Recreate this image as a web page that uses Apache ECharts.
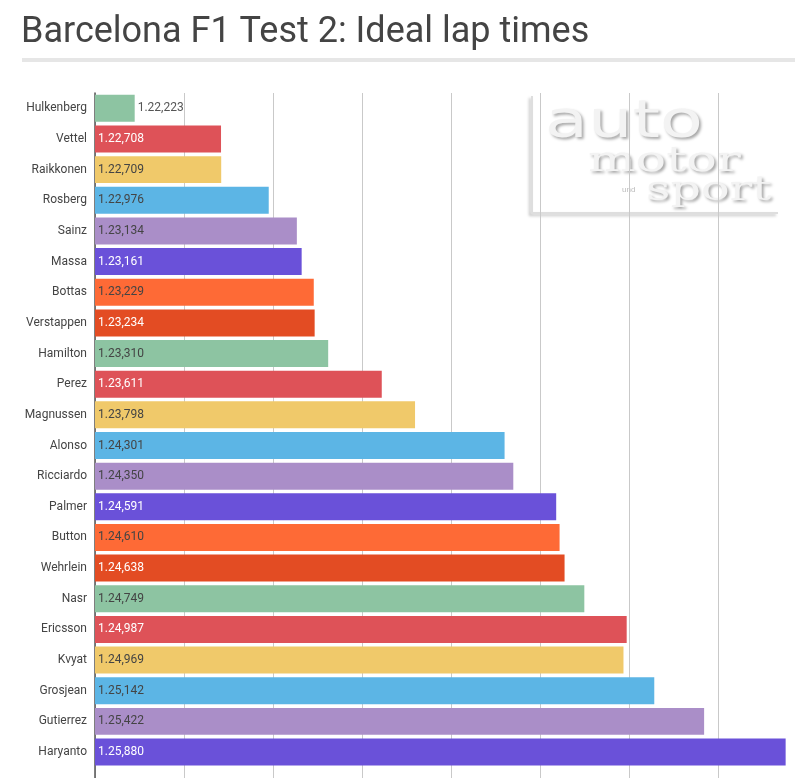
<!DOCTYPE html>
<html>
<head>
<meta charset="utf-8">
<title>Barcelona F1 Test 2: Ideal lap times</title>
<script src="https://cdn.jsdelivr.net/npm/echarts@6/dist/echarts.min.js"></script>
<style>
  html, body { margin: 0; padding: 0; background: #fff; }
  #chart { width: 800px; height: 778px; }
</style>
</head>
<body>
<div id="chart"></div>
<script>
// drivers, top to bottom
const drivers = ['Hulkenberg', 'Vettel', 'Raikkonen', 'Rosberg', 'Sainz', 'Massa', 'Bottas',
  'Verstappen', 'Hamilton', 'Perez', 'Magnussen', 'Alonso', 'Ricciardo', 'Palmer', 'Button',
  'Wehrlein', 'Nasr', 'Ericsson', 'Kvyat', 'Grosjean', 'Gutierrez', 'Haryanto'];
// ideal lap in seconds
const lapTimes = [82.223, 82.708, 82.709, 82.976, 83.134, 83.161, 83.229,
  83.234, 83.310, 83.611, 83.798, 84.301, 84.350, 84.591, 84.610,
  84.638, 84.749, 84.987, 84.969, 85.142, 85.422, 85.880];

const barColors = ['#8dc4a2', '#de5258', '#f0c96a', '#5cb5e5', '#aa8ec8', '#6a51d9', '#fe6a36', '#e34c23'];
const labelColors = ['#444', '#fff', '#444', '#444', '#444', '#fff', '#444', '#fff'];

// 82.223 -> "1.22,223"
function fmtLap(v) {
  const m = Math.floor(v / 60);
  const s = (v - m * 60).toFixed(3).replace('.', ',');
  return m + '.' + s;
}

const chart = echarts.init(document.getElementById('chart'), null, { renderer: 'canvas' });

const barData = lapTimes.map(function (v, i) {
  const k = i % barColors.length;
  const item = {
    value: v,
    itemStyle: { color: barColors[k] },
    label: { color: labelColors[k] }
  };
  // first bar is too short for the label
  if (i === 0) {
    item.label = { position: 'right', distance: 3, color: '#555' };
  }
  return item;
});

const option = {
  backgroundColor: '#fff',
  animation: false,
  textStyle: { fontFamily: 'Roboto, sans-serif' },
  title: {
    text: 'Barcelona F1 Test 2: Ideal lap times',
    left: 21,
    top: 15,
    padding: 0,
    textStyle: { fontSize: 36, fontWeight: 'normal', color: '#444', fontFamily: 'Roboto, sans-serif' }
  },
  // plot runs past the window edges (picture is cropped)
  grid: { left: 95, right: -7, top: 93, bottom: -20, outerBoundsMode: 'none' },
  xAxis: {
    type: 'value',
    min: 82,
    max: 86,
    interval: 0.5,
    axisLabel: { show: false },
    axisTick: { show: false },
    axisLine: { show: false },
    splitLine: { lineStyle: { color: '#c9c9c9', width: 1 } }
  },
  yAxis: {
    type: 'category',
    data: drivers,
    inverse: true,
    max: drivers.length, // one empty band below the last driver
    axisTick: { show: false },
    axisLine: { lineStyle: { color: '#555', width: 1.5 } },
    axisLabel: { color: '#444', fontSize: 12, margin: 8 }
  },
  graphic: [
    // rule under the title
    { type: 'rect', shape: { x: 22, y: 58, width: 773, height: 4 }, style: { fill: '#e6e6e6' } },
    // watermark
    {
      type: 'polyline', silent: true,
      shape: { points: [[532, 96], [532, 213], [778, 213]] },
      style: { stroke: '#dedede', lineWidth: 2, fill: null, shadowBlur: 3, shadowColor: 'rgba(0,0,0,0.25)', shadowOffsetX: -2, shadowOffsetY: 2 }
    },
    {
      type: 'text', silent: true, x: 545, y: 97, scaleX: 1.35,
      style: { text: 'auto', font: '52px "DejaVu Sans"', fill: '#f3f3f3', textShadowColor: 'rgba(0,0,0,0.35)', textShadowBlur: 3, textShadowOffsetX: 2, textShadowOffsetY: 2 }
    },
    {
      type: 'text', silent: true, x: 588, y: 144, scaleX: 1.4,
      style: { text: 'motor', font: '36px "DejaVu Serif"', fill: '#f3f3f3', textShadowColor: 'rgba(0,0,0,0.35)', textShadowBlur: 3, textShadowOffsetX: 2, textShadowOffsetY: 2 }
    },
    {
      type: 'text', silent: true, x: 622, y: 186,
      style: { text: 'und', font: '8px sans-serif', fill: '#bbb' }
    },
    {
      type: 'text', silent: true, x: 646, y: 174, scaleX: 1.4,
      style: { text: 'sport', font: '34px "DejaVu Serif"', fill: '#f3f3f3', textShadowColor: 'rgba(0,0,0,0.35)', textShadowBlur: 3, textShadowOffsetX: 2, textShadowOffsetY: 2 }
    }
  ],
  series: [{
    type: 'bar',
    data: barData,
    barCategoryGap: '12%',
    label: {
      show: true,
      position: 'insideLeft',
      distance: 3,
      fontSize: 12,
      formatter: function (p) { return fmtLap(p.value); }
    }
  }]
};

chart.setOption(option);
</script>
</body>
</html>
